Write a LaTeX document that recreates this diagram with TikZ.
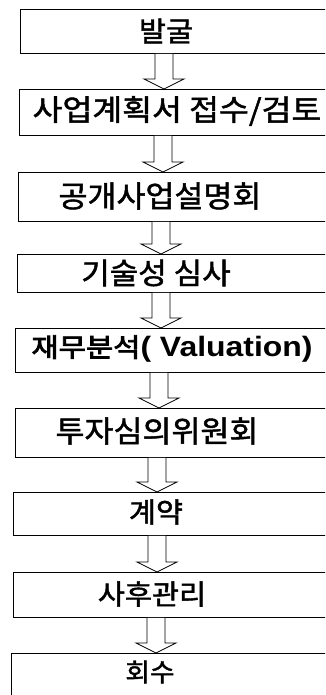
\documentclass[tikz,border=0pt]{standalone}
\usepackage{fontspec}
\newfontfamily\kr[FakeBold=1.5]{Noto Sans CJK KR}
\newfontfamily\krh[FakeBold=3]{Noto Sans CJK KR}
\newfontfamily\lat{Liberation Sans}
\tikzset{
  box/.style={draw=black, line width=0.9pt, rectangle, anchor=north west, inner sep=0pt},
  lbl/.style={inner sep=0pt, anchor=center, font=\kr},
  barrow/.style={draw=black, line width=0.8pt, line join=miter, fill=white}
}
\newcommand\lt[3]{\scalebox{#2}[1]{\fontsize{#1}{#1}\selectfont #3}}
\newcommand\blockarr[3]{%
  \draw[barrow] ([xshift=-9pt]#3 |- #1.south) -- ([xshift=-9pt,yshift=10pt]#3 |- #2.north)
    -- ([xshift=-20pt,yshift=10pt]#3 |- #2.north) -- (#3 |- #2.north)
    -- ([xshift=20pt,yshift=10pt]#3 |- #2.north) -- ([xshift=9pt,yshift=10pt]#3 |- #2.north)
    -- ([xshift=9pt]#3 |- #1.south);
}
\begin{document}
\begin{tikzpicture}[x=1pt,y=-1pt]
\useasboundingbox (0,0) rectangle (325,695);
\clip (0,0) rectangle (325,695);
% boxes
\node[box, minimum width=320pt, minimum height=44pt] (b1) at (20,9) {};
\node[box, minimum width=321pt, minimum height=46pt] (b2) at (19,89) {};
\node[box, minimum width=322pt, minimum height=49pt] (b3) at (18,172) {};
\node[box, minimum width=323pt, minimum height=38pt] (b4) at (17,254) {};
\node[box, minimum width=325pt, minimum height=44pt] (b5) at (15,328) {};
\node[box, minimum width=325pt, minimum height=49pt] (b6) at (15,408) {};
\node[box, minimum width=327pt, minimum height=43pt] (b7) at (13,492) {};
\node[box, minimum width=327pt, minimum height=45pt] (b8) at (13,572) {};
\node[box, minimum width=329pt, minimum height=60pt] (b9) at (11,653) {};
% labels
\node[lbl] (t1) at (166,31) {\lt{28}{1.05}{발굴}};
\node[lbl] (t2) at (177,111) {\lt{29.5}{1.1}{사업계획서 접수/검토}};
\node[lbl] (t3) at (160,196) {\lt{30}{1.05}{공개사업설명회}};
\node[lbl] (t4) at (156,273) {\lt{29.5}{1.05}{기술성 심사}};
\node[lbl] (t5) at (172,349) {\scalebox{1.14}[1]{{\fontsize{26}{26}\selectfont\krh 재무분석}{\fontsize{28}{28}\selectfont\lat\bfseries( Valuation)}}};
\node[lbl] (t6) at (157,431) {\lt{30}{1.05}{투자심의위원회}};
\node[lbl] (t7) at (156,512) {\lt{28}{1.05}{계약}};
\node[lbl] (t8) at (152,594) {\lt{28}{1.05}{사후관리}};
\node[lbl] (t9) at (150,672) {\lt{25.5}{1.05}{회수}};
% arrow axes
\coordinate (ax1) at (164,0);
\coordinate (ax2) at (163,0);
\coordinate (ax3) at (161,0);
\coordinate (ax4) at (161,0);
\coordinate (ax5) at (159,0);
\coordinate (ax6) at (157,0);
\coordinate (ax7) at (157,0);
\coordinate (ax8) at (156,0);
\blockarr{b1}{b2}{ax1}
\blockarr{b2}{b3}{ax2}
\blockarr{b3}{b4}{ax3}
\blockarr{b4}{b5}{ax4}
\blockarr{b5}{b6}{ax5}
\blockarr{b6}{b7}{ax6}
\blockarr{b7}{b8}{ax7}
\blockarr{b8}{b9}{ax8}
\end{tikzpicture}
\end{document}
